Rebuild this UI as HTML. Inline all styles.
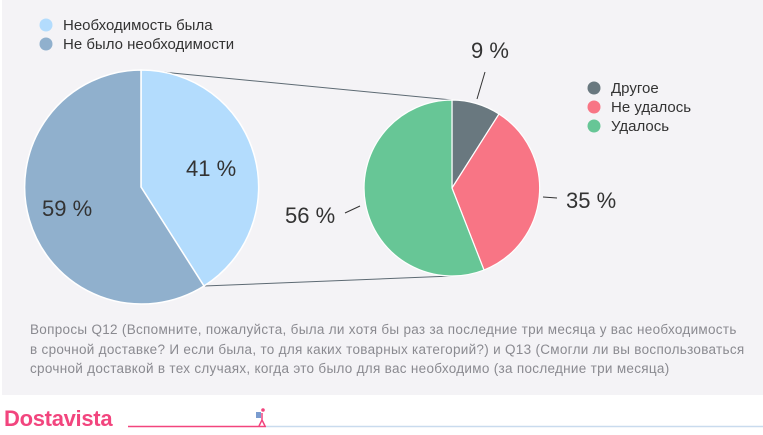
<!DOCTYPE html>
<html><head><meta charset="utf-8"><style>
body{margin:0;width:763px;height:435px;background:#fff;overflow:hidden;font-family:"Liberation Sans",sans-serif;position:relative}
.bg{position:absolute;left:2px;top:0;width:761px;height:395px;background:#f4f3f6}
.cap{position:absolute;left:30px;top:320px;font-size:13.5px;letter-spacing:0.3px;line-height:19.5px;color:#8a8a90;width:740px;white-space:nowrap}
.logo{position:absolute;left:4px;top:406px;font-size:22px;font-weight:bold;color:#f2457e;letter-spacing:-0.3px}
</style></head><body>
<div class="bg"></div>
<svg width="763" height="435" style="position:absolute;left:0;top:0" font-family="Liberation Sans, sans-serif">
<line x1="141" y1="70" x2="452" y2="100" stroke="#5d6a73" stroke-width="1"/>
<line x1="204" y1="286" x2="452" y2="276" stroke="#5d6a73" stroke-width="1"/>
<path d="M141,187 L141,70 A117,117 0 0 1 204,286 Z" fill="#b3dcfd" stroke="#fff" stroke-width="1.5"/>
<path d="M141,187 L204,286 A117,117 0 1 1 141,70 Z" fill="#90b0cd" stroke="#fff" stroke-width="1.5"/>
<path d="M452,188 L452,100 A88,88 0 0 1 499,114 Z" fill="#69787f" stroke="#fff" stroke-width="1.2"/>
<path d="M452,188 L499,114 A88,88 0 0 1 484,270 Z" fill="#f87585" stroke="#fff" stroke-width="1.2"/>
<path d="M452,188 L484,270 A88,88 0 1 1 452,100 Z" fill="#67c696" stroke="#fff" stroke-width="1.2"/>
<g font-size="22" fill="#333">
<text x="186" y="176">41 %</text>
<text x="42" y="216">59 %</text>
<text x="471" y="58">9 %</text>
<text x="566" y="208">35 %</text>
<text x="285" y="223">56 %</text>
</g>
<g stroke="#333" stroke-width="1">
<line x1="485" y1="72" x2="477" y2="99"/>
<line x1="543" y1="197" x2="557" y2="198"/>
<line x1="345" y1="213" x2="360" y2="206"/>
</g>
<g font-size="15" fill="#333">
<circle cx="46" cy="25" r="6.5" fill="#b3dcfd"/><text x="63" y="30">Необходимость была</text>
<circle cx="46" cy="44" r="6.5" fill="#90b0cd"/><text x="63" y="49">Не было необходимости</text>
<circle cx="594" cy="88" r="6.5" fill="#69787f"/><text x="611" y="93">Другое</text>
<circle cx="594" cy="107" r="6.5" fill="#f87585"/><text x="611" y="112">Не удалось</text>
<circle cx="594" cy="126" r="6.5" fill="#67c696"/><text x="611" y="131">Удалось</text>
</g>
<line x1="128" y1="426.5" x2="266" y2="426.5" stroke="#f2457e" stroke-width="1.5"/>
<line x1="266" y1="426.5" x2="763" y2="426.5" stroke="#c9dbee" stroke-width="1.5"/>
<rect x="256" y="412" width="5" height="6" fill="#7a9ccf"/>
<circle cx="263" cy="410" r="1.8" fill="#f2457e"/>
<path d="M262,413 L262,420 L259,426 M262,420 L265,426" stroke="#f2457e" stroke-width="1.5" fill="none"/>
</svg>
<div class="cap">Вопросы Q12 (Вспомните, пожалуйста, была ли хотя бы раз за последние три месяца у вас необходимость<br>в срочной доставке? И если была, то для каких товарных категорий?) и Q13 (Смогли ли вы воспользоваться<br>срочной доставкой в тех случаях, когда это было для вас необходимо (за последние три месяца)</div>
<div class="logo">Dostavista</div>
</body></html>
